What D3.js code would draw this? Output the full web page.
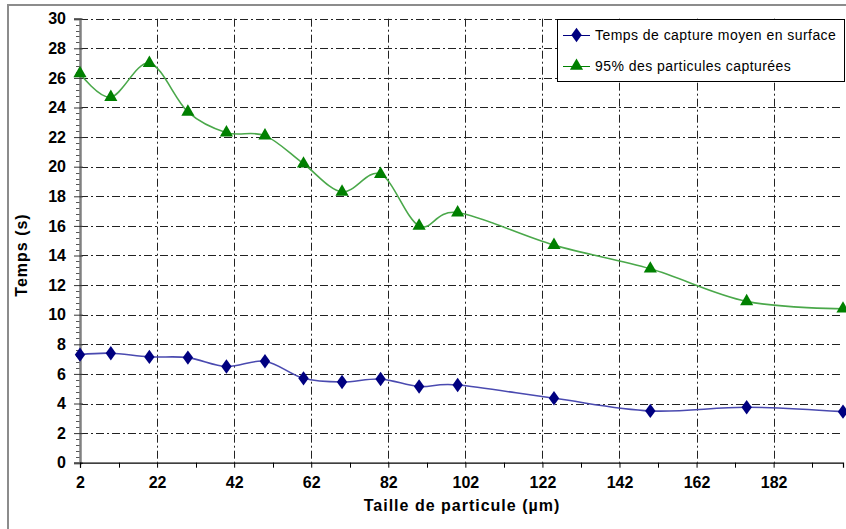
<!DOCTYPE html>
<html>
<head>
<meta charset="utf-8">
<script src="https://cdn.jsdelivr.net/npm/d3@7"></script>
<style>
  html, body { margin: 0; padding: 0; background: #fff; }
  svg { display: block; font-family: Arial, "Liberation Sans", sans-serif; }
</style>
</head>
<body>
<svg id="chart" width="846" height="529"></svg>
<script>
// ---- data ----
const particleSizes = [2, 10, 20, 30, 40, 50, 60, 70, 80, 90, 100, 125, 150, 175, 200];
const meanSurfaceTime = [7.3, 7.4, 7.15, 7.1, 6.5, 6.85, 5.7, 5.45, 5.65, 5.15, 5.25, 4.35, 3.5, 3.75, 3.45];
const capture95Time = [26.3, 24.7, 27.0, 23.7, 22.3, 22.1, 20.2, 18.3, 19.5, 16.0, 16.9, 14.7, 13.1, 10.9, 10.4];
const seriesNames = ["Temps de capture moyen en surface", "95% des particules capturées"];
const xTicks = [2, 22, 42, 62, 82, 102, 122, 142, 162, 182];
const xMinorTicks = [12, 32, 52, 72, 92, 112, 132, 152, 172, 192];
const yTicks = d3.range(0, 31, 2);
const xTitle = "Taille de particule (µm)";
const yTitle = "Temps (s)";

// ---- layout ----
(function () {
const svg = d3.select("#chart");
const pLeft = 80, pRight = 843, pTop = 18.7, pBottom = 462.7;
const x = d3.scaleLinear().domain([2, 200]).range([pLeft, pRight]);
const y = d3.scaleLinear().domain([0, 30]).range([pBottom, pTop]);

// outer frame
svg.append("rect").attr("x", 8).attr("y", 5).attr("width", 850).attr("height", 540)
  .attr("fill", "none").attr("stroke", "#8c8c8c").attr("stroke-width", 2);

const grid = svg.append("g").attr("stroke", "#222").attr("stroke-width", 1)
  .attr("stroke-dasharray", "8,3,2,3").attr("fill", "none");
grid.selectAll("line.h").data(yTicks.filter(d => d > 0)).join("line")
  .attr("x1", pLeft).attr("x2", pRight)
  .attr("y1", d => Math.round(y(d)) + 0.5).attr("y2", d => Math.round(y(d)) + 0.5);
grid.selectAll("line.v").data(xTicks.filter(d => d > 2)).join("line")
  .attr("y1", pTop).attr("y2", pBottom)
  .attr("x1", d => Math.round(x(d)) + 0.5).attr("x2", d => Math.round(x(d)) + 0.5);

// y minor ticks
const yMinor = d3.range(0, 30.01, 0.4).filter(v => Math.abs(v / 2 - Math.round(v / 2)) > 1e-6);
svg.append("g").selectAll("line").data(yMinor).join("line")
  .attr("x1", pLeft - 4).attr("x2", pLeft)
  .attr("y1", d => Math.round(y(d)) + 0.5).attr("y2", d => Math.round(y(d)) + 0.5)
  .attr("stroke", "#555").attr("stroke-width", 1);

// y axis
const yAxis = d3.axisLeft(y).tickValues(yTicks).tickSize(6).tickPadding(8).tickFormat(d3.format("d"));
const gy = svg.append("g").attr("transform", `translate(${pLeft},0)`).call(yAxis);
gy.select(".domain").attr("stroke", "#808080").attr("stroke-width", 2.5);
gy.selectAll(".tick line").attr("stroke", "#333").attr("x2", -6).attr("x1", 3);
gy.selectAll(".tick text").attr("font-size", 16).attr("font-weight", "bold").attr("fill", "#000")
  .attr("font-family", "Arial, 'Liberation Sans', sans-serif").attr("x", -14);

// x axis
const xAxis = d3.axisBottom(x).tickValues(xTicks).tickSize(5).tickPadding(9).tickFormat(d3.format("d"));
const gx = svg.append("g").attr("transform", `translate(0,${pBottom})`).call(xAxis);
gx.select(".domain").attr("stroke", "#000").attr("stroke-width", 1.2);
gx.selectAll(".tick line").attr("stroke", "#000");
gx.selectAll(".tick text").attr("font-size", 16).attr("font-weight", "bold").attr("fill", "#000")
  .attr("font-family", "Arial, 'Liberation Sans', sans-serif");
svg.append("g").selectAll("line").data(xMinorTicks).join("line")
  .attr("x1", d => Math.round(x(d)) + 0.5).attr("x2", d => Math.round(x(d)) + 0.5)
  .attr("y1", pBottom).attr("y2", pBottom + 5).attr("stroke", "#000");

// axis titles
svg.append("text").attr("x", 462).attr("y", 511).attr("text-anchor", "middle")
  .attr("font-size", 16).attr("font-weight", "bold").attr("letter-spacing", 1)
  .text(xTitle);
svg.append("text").attr("transform", "translate(27,255) rotate(-90)").attr("text-anchor", "middle")
  .attr("font-size", 16).attr("font-weight", "bold").attr("letter-spacing", 1)
  .text(yTitle);

// series
const line = d3.line().x(d => x(d[0])).y(d => y(d[1])).curve(d3.curveCatmullRom.alpha(0));
const blueData = particleSizes.map((s, i) => [s, meanSurfaceTime[i]]);
const greenData = particleSizes.map((s, i) => [s, capture95Time[i]]);

svg.append("path").datum(greenData).attr("d", line).attr("fill", "none")
  .attr("stroke", "#4aa84a").attr("stroke-width", 1.6);
svg.append("path").datum(blueData).attr("d", line).attr("fill", "none")
  .attr("stroke", "#4a4ab0").attr("stroke-width", 1.6);

const diamond = d3.symbol().type(d3.symbolDiamond).size(60);
const triangle = d3.symbol().type(d3.symbolTriangle).size(75);

svg.append("g").selectAll("path").data(blueData).join("path")
  .attr("d", diamond).attr("transform", d => `translate(${x(d[0])},${y(d[1])}) scale(1.25,1)`)
  .attr("fill", "#000080");
svg.append("g").selectAll("path").data(greenData).join("path")
  .attr("d", triangle).attr("transform", d => `translate(${x(d[0])},${y(d[1])})`)
  .attr("fill", "#008000");

// legend
const lg = svg.append("g");
lg.append("rect").attr("x", 557.5).attr("y", 19.5).attr("width", 287).attr("height", 62)
  .attr("fill", "#fff").attr("stroke", "#000").attr("stroke-width", 1);
const legendItems = [
  { name: seriesNames[0], color: "#000080", sym: diamond, yy: 35, sx: 1.25 },
  { name: seriesNames[1], color: "#008000", sym: triangle, yy: 66, sx: 1 }
];
legendItems.forEach(it => {
  lg.append("line").attr("x1", 563).attr("x2", 590).attr("y1", it.yy + 0.5).attr("y2", it.yy + 0.5)
    .attr("stroke", it.color).attr("stroke-width", 1);
  lg.append("path").attr("d", it.sym).attr("transform", `translate(576.5,${it.yy}) scale(${it.sx},1)`)
    .attr("fill", it.color);
  lg.append("text").attr("x", 595).attr("y", it.yy + 5).attr("font-size", 14)
    .attr("letter-spacing", 0.45).text(it.name);
});
})();
</script>
</body>
</html>
